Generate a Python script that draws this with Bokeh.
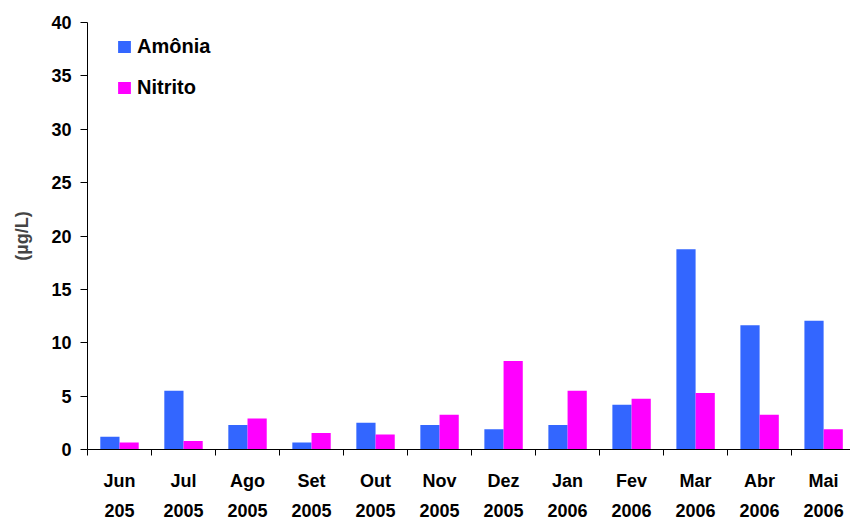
from bokeh.plotting import figure
from bokeh.models import (ColumnDataSource, Range1d, FixedTicker, LinearAxis,
                          Legend, LegendItem)
from bokeh.transform import dodge
from bokeh.embed import file_html
from bokeh.resources import INLINE

months = ["Jun", "Jul", "Ago", "Set", "Out", "Nov", "Dez", "Jan", "Fev", "Mar", "Abr", "Mai"]
years = ["205", "2005", "2005", "2005", "2005", "2005", "2005", "2006", "2006", "2006", "2006", "2006"]
amonia = [1.2, 5.5, 2.3, 0.65, 2.5, 2.3, 1.9, 2.3, 4.2, 18.75, 11.65, 12.05]
nitrito = [0.65, 0.8, 2.9, 1.55, 1.4, 3.25, 8.3, 5.5, 4.75, 5.3, 3.25, 1.9]
y_ticks = [0, 5, 10, 15, 20, 25, 30, 35, 40]

idx = list(range(len(months)))
src = ColumnDataSource(dict(x=idx, amonia=amonia, nitrito=nitrito))

FONT = "Liberation Sans"
BLUE = "#3366FF"
PINK = "#FF00FF"

p = figure(width=850, height=519, output_backend="svg", toolbar_location=None,
           x_range=Range1d(-0.5, 11.42), y_range=Range1d(0, 40),
           x_axis_location=None, min_border_left=87, min_border_top=22,
           min_border_right=0, min_border_bottom=0)
p.outline_line_color = None
p.grid.grid_line_color = None
p.background_fill_color = "white"
p.border_fill_color = "white"

r1 = p.vbar(x=dodge("x", -0.15), top="amonia", width=0.3, source=src,
            fill_color=BLUE, line_color=None)
r2 = p.vbar(x=dodge("x", 0.15), top="nitrito", width=0.3, source=src,
            fill_color=PINK, line_color=None)

# y axis
ya = p.yaxis[0]
ya.ticker = FixedTicker(ticks=y_ticks)
ya.axis_label = "(µg/L)"
ya.axis_label_text_font = FONT
ya.axis_label_text_font_style = "bold"
ya.axis_label_text_font_size = "18px"
ya.axis_label_standoff = 16
ya.major_label_text_font = FONT
ya.major_label_text_font_style = "bold"
ya.major_label_text_font_size = "18px"
ya.major_label_text_color = "black"
ya.major_label_standoff = 9
ya.major_tick_out = 7
ya.major_tick_in = 0
ya.minor_tick_line_color = None
ya.axis_line_color = "black"
ya.major_tick_line_color = "black"

# x axis: months + boundary ticks
xa = LinearAxis(ticker=FixedTicker(ticks=idx, minor_ticks=[i - 0.5 for i in range(len(months) + 1)]),
                major_label_overrides={i: m for i, m in zip(idx, months)})
xa.major_tick_line_color = None
xa.major_tick_out = 0
xa.major_tick_in = 0
xa.minor_tick_out = 6
xa.minor_tick_in = 0
xa.minor_tick_line_color = "black"
xa.axis_line_color = "black"
xa.major_label_standoff = 15
xa.major_label_text_font = FONT
xa.major_label_text_font_style = "bold"
xa.major_label_text_font_size = "18px"
xa.major_label_text_color = "black"
p.add_layout(xa, "below")

# x axis: years
xb = LinearAxis(ticker=FixedTicker(ticks=idx),
                major_label_overrides={i: y for i, y in zip(idx, years)})
xb.axis_line_color = None
xb.major_tick_line_color = None
xb.minor_tick_line_color = None
xb.major_tick_out = 0
xb.major_tick_in = 0
xb.major_label_standoff = 10
xb.major_label_text_font = FONT
xb.major_label_text_font_style = "bold"
xb.major_label_text_font_size = "18px"
xb.major_label_text_color = "black"
p.add_layout(xb, "below")

legend = Legend(items=[LegendItem(label="Amônia", renderers=[r1]),
                       LegendItem(label="Nitrito", renderers=[r2])],
                location=(29, 350), orientation="vertical",
                border_line_color=None, background_fill_alpha=0,
                padding=0, margin=0, spacing=18,
                glyph_width=16, glyph_height=15, label_standoff=5,
                label_text_font=FONT, label_text_font_style="bold",
                label_text_font_size="20px", label_text_color="black")
p.add_layout(legend, "center")

open("out.html", "w").write(file_html(p, INLINE))
